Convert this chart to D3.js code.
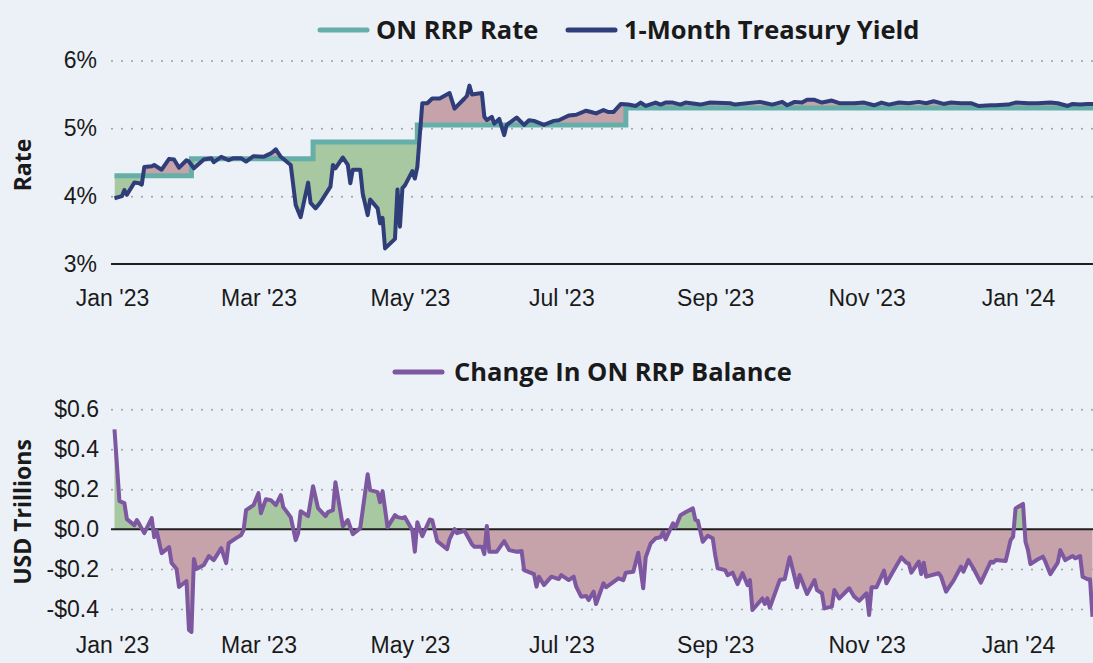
<!DOCTYPE html>
<html lang="en">
<head>
<meta charset="UTF-8">
<title>ON RRP Rate vs 1-Month Treasury Yield</title>
<script src="https://d3js.org/d3.v7.min.js"></script>
<style>
  body { margin: 0; background: #ecf1f8; }
  svg { display: block; font-family: "Open Sans", "Noto Sans", sans-serif; }
  .tick text { font-size: 23px; fill: #1a1a1a; }
  .legend-label { font-size: 25.5px; font-weight: bold; fill: #1a1a1a; }
  .axis-title { font-size: 23px; font-weight: bold; fill: #1a1a1a; }
</style>
</head>
<body>
<svg id="chart" width="1093" height="663"></svg>
<script>
// ---- data ----
const rrpDates = ["2023-01-02", "2023-02-02", "2023-03-23", "2023-05-04", "2023-07-27", "2024-02-01"];
const rrpValues = [4.30, 4.55, 4.80, 5.05, 5.30, 5.30];

const yieldDates = [
  "2023-01-02", "2023-01-05", "2023-01-06", "2023-01-07", "2023-01-10", "2023-01-12", "2023-01-13", "2023-01-14",
  "2023-01-17", "2023-01-18", "2023-01-21", "2023-01-24", "2023-01-26", "2023-01-28", "2023-01-31", "2023-02-01",
  "2023-02-03", "2023-02-07", "2023-02-10", "2023-02-11", "2023-02-14", "2023-02-17", "2023-02-19", "2023-02-22",
  "2023-02-24", "2023-02-27", "2023-03-03", "2023-03-06", "2023-03-08", "2023-03-10", "2023-03-14", "2023-03-16",
  "2023-03-18", "2023-03-21", "2023-03-22", "2023-03-24", "2023-03-26", "2023-03-30", "2023-03-31", "2023-04-01",
  "2023-04-04", "2023-04-06", "2023-04-07", "2023-04-08", "2023-04-11", "2023-04-12", "2023-04-14", "2023-04-15",
  "2023-04-18", "2023-04-19", "2023-04-20", "2023-04-21", "2023-04-25", "2023-04-26", "2023-04-27", "2023-04-28",
  "2023-04-29", "2023-05-02", "2023-05-03", "2023-05-04", "2023-05-06", "2023-05-08", "2023-05-10", "2023-05-13",
  "2023-05-17", "2023-05-19", "2023-05-23", "2023-05-24", "2023-05-25", "2023-05-26", "2023-05-30", "2023-05-31",
  "2023-06-01", "2023-06-03", "2023-06-04", "2023-06-06", "2023-06-08", "2023-06-09", "2023-06-13", "2023-06-16",
  "2023-06-18", "2023-06-20", "2023-06-24", "2023-06-28", "2023-06-30", "2023-07-04", "2023-07-07", "2023-07-11",
  "2023-07-13", "2023-07-15", "2023-07-18", "2023-07-20", "2023-07-22", "2023-07-25", "2023-07-28", "2023-07-31",
  "2023-08-02", "2023-08-04", "2023-08-08", "2023-08-10", "2023-08-12", "2023-08-15", "2023-08-18", "2023-08-20",
  "2023-08-26", "2023-08-30", "2023-09-07", "2023-09-09", "2023-09-19", "2023-09-24", "2023-09-28", "2023-09-30",
  "2023-10-03", "2023-10-06", "2023-10-08", "2023-10-11", "2023-10-14", "2023-10-18", "2023-10-21", "2023-10-27",
  "2023-10-31", "2023-11-04", "2023-11-07", "2023-11-10", "2023-11-14", "2023-11-18", "2023-11-22", "2023-11-25",
  "2023-11-28", "2023-12-02", "2023-12-05", "2023-12-09", "2023-12-13", "2023-12-16", "2023-12-21", "2023-12-23",
  "2023-12-28", "2023-12-31", "2024-01-05", "2024-01-09", "2024-01-14", "2024-01-17", "2024-01-21", "2024-01-23",
  "2024-01-26", "2024-01-29", "2024-02-01"
];
const yieldValues = [
  3.97, 4.00, 4.09, 4.02, 4.20, 4.19, 4.17, 4.43,
  4.44, 4.46, 4.39, 4.55, 4.54, 4.42, 4.53, 4.51,
  4.41, 4.54, 4.56, 4.50, 4.58, 4.53, 4.56, 4.56,
  4.51, 4.59, 4.58, 4.63, 4.69, 4.58, 4.46, 3.87,
  3.69, 4.20, 3.90, 3.82, 3.91, 4.14, 4.46, 4.41,
  4.57, 4.46, 4.19, 4.39, 4.39, 4.04, 3.72, 3.95,
  3.82, 3.60, 3.68, 3.23, 3.37, 4.10, 3.55, 4.12,
  4.16, 4.37, 4.26, 4.43, 5.37, 5.37, 5.44, 5.44,
  5.52, 5.29, 5.44, 5.48, 5.63, 5.50, 5.52, 5.17,
  5.12, 5.17, 5.07, 5.14, 4.90, 5.05, 5.16, 5.05,
  5.12, 5.11, 5.05, 5.11, 5.12, 5.19, 5.20, 5.26,
  5.24, 5.22, 5.27, 5.24, 5.24, 5.36, 5.35, 5.33,
  5.38, 5.33, 5.38, 5.35, 5.38, 5.38, 5.35, 5.38,
  5.35, 5.38, 5.37, 5.35, 5.39, 5.35, 5.39, 5.34,
  5.39, 5.38, 5.42, 5.42, 5.38, 5.41, 5.37, 5.37,
  5.38, 5.34, 5.38, 5.35, 5.38, 5.37, 5.39, 5.37,
  5.40, 5.36, 5.38, 5.37, 5.37, 5.33, 5.34, 5.34,
  5.35, 5.38, 5.37, 5.37, 5.38, 5.37, 5.33, 5.36,
  5.35, 5.36, 5.36
];

const balanceDates = [
  "2023-01-02", "2023-01-04", "2023-01-06", "2023-01-07", "2023-01-10", "2023-01-11", "2023-01-12", "2023-01-14",
  "2023-01-17", "2023-01-18", "2023-01-19", "2023-01-21", "2023-01-24", "2023-01-25", "2023-01-27", "2023-01-28",
  "2023-01-31", "2023-02-01", "2023-02-02", "2023-02-03", "2023-02-04", "2023-02-07", "2023-02-09", "2023-02-11",
  "2023-02-14", "2023-02-16", "2023-02-17", "2023-02-20", "2023-02-22", "2023-02-23", "2023-02-24", "2023-02-27",
  "2023-03-01", "2023-03-02", "2023-03-04", "2023-03-06", "2023-03-08", "2023-03-10", "2023-03-11", "2023-03-14",
  "2023-03-16", "2023-03-17", "2023-03-18", "2023-03-21", "2023-03-23", "2023-03-25", "2023-03-28", "2023-03-29",
  "2023-03-31", "2023-04-01", "2023-04-04", "2023-04-06", "2023-04-08", "2023-04-11", "2023-04-14", "2023-04-15",
  "2023-04-18", "2023-04-19", "2023-04-20", "2023-04-22", "2023-04-25", "2023-04-26", "2023-04-28", "2023-04-29",
  "2023-05-02", "2023-05-03", "2023-05-04", "2023-05-06", "2023-05-09", "2023-05-10", "2023-05-12", "2023-05-16",
  "2023-05-17", "2023-05-19", "2023-05-20", "2023-05-23", "2023-05-26", "2023-05-27", "2023-05-30", "2023-05-31",
  "2023-06-01", "2023-06-02", "2023-06-05", "2023-06-08", "2023-06-10", "2023-06-13", "2023-06-15", "2023-06-16",
  "2023-06-20", "2023-06-21", "2023-06-22", "2023-06-24", "2023-06-27", "2023-06-30", "2023-07-01", "2023-07-04",
  "2023-07-06", "2023-07-07", "2023-07-09", "2023-07-11", "2023-07-12", "2023-07-14", "2023-07-15", "2023-07-18",
  "2023-07-19", "2023-07-24", "2023-07-26", "2023-07-27", "2023-07-30", "2023-08-01", "2023-08-03", "2023-08-04",
  "2023-08-06", "2023-08-08", "2023-08-10", "2023-08-11", "2023-08-12", "2023-08-15", "2023-08-16", "2023-08-18",
  "2023-08-20", "2023-08-23", "2023-08-24", "2023-08-25", "2023-08-27", "2023-08-29", "2023-08-31", "2023-09-01",
  "2023-09-02", "2023-09-05", "2023-09-06", "2023-09-08", "2023-09-10", "2023-09-12", "2023-09-14", "2023-09-15",
  "2023-09-16", "2023-09-20", "2023-09-21", "2023-09-22", "2023-09-23", "2023-09-27", "2023-09-29", "2023-10-01",
  "2023-10-04", "2023-10-05", "2023-10-08", "2023-10-11", "2023-10-12", "2023-10-14", "2023-10-15", "2023-10-18",
  "2023-10-19", "2023-10-21", "2023-10-25", "2023-10-27", "2023-10-29", "2023-11-01", "2023-11-02", "2023-11-03",
  "2023-11-05", "2023-11-08", "2023-11-09", "2023-11-12", "2023-11-15", "2023-11-17", "2023-11-18", "2023-11-19",
  "2023-11-22", "2023-11-23", "2023-11-24", "2023-11-25", "2023-11-30", "2023-12-01", "2023-12-03", "2023-12-06",
  "2023-12-09", "2023-12-10", "2023-12-12", "2023-12-14", "2023-12-17", "2023-12-21", "2023-12-22", "2023-12-23",
  "2023-12-27", "2023-12-29", "2023-12-30", "2023-12-31", "2024-01-03", "2024-01-04", "2024-01-05", "2024-01-06",
  "2024-01-09", "2024-01-11", "2024-01-12", "2024-01-14", "2024-01-17", "2024-01-18", "2024-01-20", "2024-01-23",
  "2024-01-24", "2024-01-26", "2024-01-27", "2024-01-29", "2024-01-30", "2024-01-31"
];
const balanceValues = [
  0.50, 0.14, 0.13, 0.05, 0.02, 0.045, 0.025, -0.02,
  0.055, -0.04, -0.01, -0.12, -0.09, -0.17, -0.20, -0.29,
  -0.26, -0.505, -0.515, -0.15, -0.20, -0.18, -0.135, -0.155,
  -0.095, -0.17, -0.07, -0.045, -0.03, -0.005, 0.095, 0.12,
  0.18, 0.08, 0.15, 0.145, 0.12, 0.17, 0.11, 0.06,
  -0.055, -0.02, 0.09, 0.065, 0.215, 0.105, 0.065, 0.085,
  0.095, 0.235, 0.015, 0.045, -0.025, 0.005, 0.275, 0.195,
  0.185, 0.135, 0.19, 0.01, 0.07, 0.06, 0.055, 0.06,
  -0.005, -0.113, 0.035, -0.035, 0.048, 0.045, -0.06, -0.10,
  -0.05, 0.0, -0.02, -0.008, -0.076, -0.088, -0.088, -0.125,
  0.016, -0.113, -0.113, -0.06, -0.105, -0.113, -0.11, -0.205,
  -0.225, -0.288, -0.238, -0.28, -0.238, -0.25, -0.23, -0.255,
  -0.238, -0.288, -0.338, -0.335, -0.355, -0.313, -0.375, -0.271,
  -0.291, -0.246, -0.255, -0.218, -0.213, -0.118, -0.296, -0.141,
  -0.071, -0.046, -0.041, -0.013, -0.051, 0.029, 0.009, 0.07,
  0.084, 0.104, 0.046, 0.042, -0.063, -0.033, -0.046, -0.13,
  -0.196, -0.205, -0.23, -0.218, -0.275, -0.22, -0.28, -0.255,
  -0.405, -0.347, -0.375, -0.347, -0.393, -0.255, -0.25, -0.141,
  -0.291, -0.23, -0.325, -0.255, -0.305, -0.321, -0.397, -0.388,
  -0.305, -0.347, -0.296, -0.338, -0.359, -0.321, -0.43, -0.291,
  -0.291, -0.208, -0.271, -0.205, -0.141, -0.168, -0.173, -0.218,
  -0.163, -0.225, -0.168, -0.238, -0.221, -0.238, -0.313, -0.258,
  -0.188, -0.213, -0.155, -0.196, -0.268, -0.163, -0.168, -0.155,
  -0.16, -0.055, -0.038, 0.104, 0.126, -0.063, -0.105, -0.175,
  -0.151, -0.138, -0.163, -0.225, -0.168, -0.105, -0.155, -0.135,
  -0.146, -0.135, -0.238, -0.251, -0.251, -0.439
];

const monthTicks = ["2023-01-01", "2023-03-01", "2023-05-01", "2023-07-01", "2023-09-01", "2023-11-01", "2024-01-01"];
const rateTicks = [3, 4, 5, 6];
const balanceTicks = [-0.4, -0.2, 0, 0.2, 0.4, 0.6];

// ---- colours ----
const teal = "#66afa8", navy = "#2f3e78", purple = "#7d58a0";
const greenFill = "#a8c8a1", pinkFill = "#c6a2ab";

const parse = d3.timeParse("%Y-%m-%d");
const rrp = rrpDates.map((d, i) => ({ date: parse(d), value: rrpValues[i] }));
const yld = yieldDates.map((d, i) => ({ date: parse(d), value: yieldValues[i] }));
const bal = balanceDates.map((d, i) => ({ date: parse(d), value: balanceValues[i] }));

const svg = d3.select("#chart");
const left = 112, right = 1095;

const x = d3.scaleTime().domain([parse("2023-01-01"), parse("2024-02-01")]).range([left, right]);
const yRate = d3.scaleLinear().domain([3, 6]).range([264, 60.5]);
const yBal = d3.scaleLinear().domain([-0.5, 0.6]).range([629, 409.3]);

const defs = svg.append("defs");

function styleGrid(g, skip) {
    g.select(".domain").remove();
    g.selectAll(".tick line")
        .attr("stroke", "#9c9c9c")
        .attr("stroke-width", 2)
        .attr("stroke-linecap", "round")
        .attr("stroke-dasharray", "0,10")
        .filter(d => d === skip).remove();
}

// ================= top chart =================
const topG = svg.append("g");

topG.append("g")
    .attr("transform", `translate(${left},0)`)
    .call(d3.axisLeft(yRate).tickValues(rateTicks).tickFormat(d => d + "%")
        .tickSize(-(1093 - left)).tickPadding(15))
    .call(g => styleGrid(g, 3));

// clip regions either side of the step-shaped RRP rate
const rateAbove = d3.area().curve(d3.curveStepAfter)
    .x(d => x(d.date)).y0(0).y1(d => yRate(d.value));
const rateBelow = d3.area().curve(d3.curveStepAfter)
    .x(d => x(d.date)).y0(d => yRate(d.value)).y1(400);
defs.append("clipPath").attr("id", "aboveRate").append("path").attr("d", rateAbove(rrp));
defs.append("clipPath").attr("id", "belowRate").append("path").attr("d", rateBelow(rrp));

// yield above rate -> pink, yield below rate -> green
topG.append("path")
    .attr("d", d3.area().x(d => x(d.date)).y0(yRate(3)).y1(d => yRate(d.value))(yld))
    .attr("fill", pinkFill)
    .attr("clip-path", "url(#aboveRate)");
topG.append("path")
    .attr("d", d3.area().x(d => x(d.date)).y0(0).y1(d => yRate(d.value))(yld))
    .attr("fill", greenFill)
    .attr("clip-path", "url(#belowRate)");

topG.append("line")
    .attr("x1", left - 1).attr("x2", 1093)
    .attr("y1", yRate(3)).attr("y2", yRate(3))
    .attr("stroke", "#1f1f1f").attr("stroke-width", 2);

topG.append("path")
    .attr("d", d3.line().curve(d3.curveStepAfter).x(d => x(d.date)).y(d => yRate(d.value))(rrp))
    .attr("fill", "none").attr("stroke", teal).attr("stroke-width", 5);

topG.append("path")
    .attr("d", d3.line().x(d => x(d.date)).y(d => yRate(d.value))(yld))
    .attr("fill", "none").attr("stroke", navy).attr("stroke-width", 4)
    .attr("stroke-linejoin", "round");

topG.append("g")
    .attr("transform", `translate(0,${yRate(3)})`)
    .call(d3.axisBottom(x).tickValues(monthTicks.map(parse))
        .tickFormat(d3.timeFormat("%b '%y")).tickSize(0).tickPadding(26))
    .call(g => g.select(".domain").remove());

topG.append("text")
    .attr("class", "axis-title")
    .attr("transform", "translate(31,165) rotate(-90)")
    .attr("text-anchor", "middle")
    .text("Rate");

// legend
const legTop = topG.append("g");
legTop.append("line").attr("x1", 320).attr("x2", 367).attr("y1", 30).attr("y2", 30)
    .attr("stroke", teal).attr("stroke-width", 5).attr("stroke-linecap", "round");
legTop.append("text").attr("class", "legend-label").attr("x", 376).attr("y", 39).text("ON RRP Rate");
legTop.append("line").attr("x1", 568).attr("x2", 615).attr("y1", 30).attr("y2", 30)
    .attr("stroke", navy).attr("stroke-width", 5).attr("stroke-linecap", "round");
legTop.append("text").attr("class", "legend-label").attr("x", 624).attr("y", 39).text("1-Month Treasury Yield");

// ================= bottom chart =================
const botG = svg.append("g");

botG.append("g")
    .attr("transform", `translate(${left},0)`)
    .call(d3.axisLeft(yBal).tickValues(balanceTicks)
        .tickFormat(d => (d < 0 ? "-$" : "$") + Math.abs(d).toFixed(1))
        .tickSize(-(1093 - left)).tickPadding(13))
    .call(g => styleGrid(g, 0));

const zeroY = yBal(0);
defs.append("clipPath").attr("id", "posClip").append("rect")
    .attr("x", 0).attr("y", 0).attr("width", 1093).attr("height", zeroY);
defs.append("clipPath").attr("id", "negClip").append("rect")
    .attr("x", 0).attr("y", zeroY).attr("width", 1093).attr("height", 663 - zeroY);

const balArea = d3.area().x(d => x(d.date)).y0(zeroY).y1(d => yBal(d.value));
botG.append("path").attr("d", balArea(bal)).attr("fill", greenFill).attr("clip-path", "url(#posClip)");
botG.append("path").attr("d", balArea(bal)).attr("fill", pinkFill).attr("clip-path", "url(#negClip)");

botG.append("line")
    .attr("x1", left - 1).attr("x2", 1093)
    .attr("y1", zeroY).attr("y2", zeroY)
    .attr("stroke", "#1f1f1f").attr("stroke-width", 2);

botG.append("path")
    .attr("d", d3.line().x(d => x(d.date)).y(d => yBal(d.value))(bal))
    .attr("fill", "none").attr("stroke", purple).attr("stroke-width", 4)
    .attr("stroke-linejoin", "round");

botG.append("g")
    .attr("transform", `translate(0,${yBal(-0.5)})`)
    .call(d3.axisBottom(x).tickValues(monthTicks.map(parse))
        .tickFormat(d3.timeFormat("%b '%y")).tickSize(0).tickPadding(8))
    .call(g => g.select(".domain").remove());

botG.append("text")
    .attr("class", "axis-title")
    .attr("transform", "translate(31,512) rotate(-90)")
    .attr("text-anchor", "middle")
    .text("USD Trillions");

const legBot = botG.append("g");
legBot.append("line").attr("x1", 395).attr("x2", 442).attr("y1", 372).attr("y2", 372)
    .attr("stroke", purple).attr("stroke-width", 5).attr("stroke-linecap", "round");
legBot.append("text").attr("class", "legend-label").attr("x", 454).attr("y", 381).text("Change In ON RRP Balance");
</script>
</body>
</html>
